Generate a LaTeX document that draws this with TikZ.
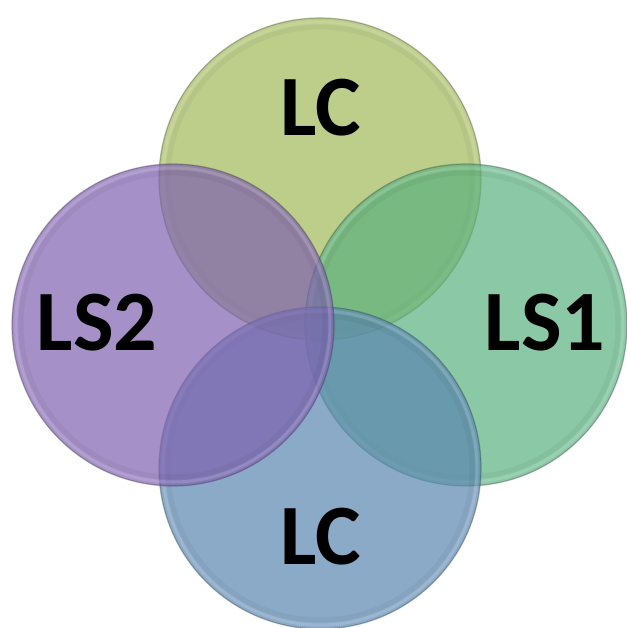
\documentclass[tikz,border=0pt]{standalone}
\usepackage{fontspec}
\setmainfont{Carlito}
\begin{document}
\definecolor{cTop}{RGB}{162,186,91}
\definecolor{cRight}{RGB}{91,177,127}
\definecolor{cBottom}{RGB}{91,134,176}
\definecolor{cLeft}{RGB}{127,98,176}
\begin{tikzpicture}[x=1pt,y=-1pt,
  disc/.style={circle, minimum size=322pt, inner sep=0pt, fill=#1, fill opacity=0.7,
               draw=#1!35!black!80!gray, draw opacity=0.4, line width=1.2pt},
  rim/.style={circle, minimum size=314pt, inner sep=0pt, draw=white, draw opacity=0.14, line width=3pt},
  shade/.style={circle, minimum size=304pt, inner sep=0pt, draw=black, draw opacity=0.04, line width=5pt},
  lbl/.style={font=\fontsize{86}{86}\selectfont\bfseries, text=black, inner sep=0pt}]
  \fill[white] (0,0) rectangle (626,628);
  \useasboundingbox (0,0) rectangle (626,628);
  % four overlapping discs, back to front
  \node[disc=cTop]    (top)    at (320,179) {};
  \node[rim] (topRim) at (top) {};
  \node[shade] (topShade) at (top) {};
  \node[disc=cRight]  (right)  at (466,325) {};
  \node[rim] (rightRim) at (right) {};
  \node[shade] (rightShade) at (right) {};
  \node[disc=cBottom] (bottom) at (320,468) {};
  \node[rim] (bottomRim) at (bottom) {};
  \node[shade] (bottomShade) at (bottom) {};
  \node[disc=cLeft]   (left)   at (173,325) {};
  \node[rim] (leftRim) at (left) {};
  \node[shade] (leftShade) at (left) {};
  % labels
  \node[lbl] (lcTop)    at (321,108) {LC};
  \node[lbl] (ls2)      at (97,323)  {LS2};
  \node[lbl] (ls1)      at (545,323) {LS1};
  \node[lbl] (lcBottom) at (321,537) {LC};
\end{tikzpicture}
\end{document}
